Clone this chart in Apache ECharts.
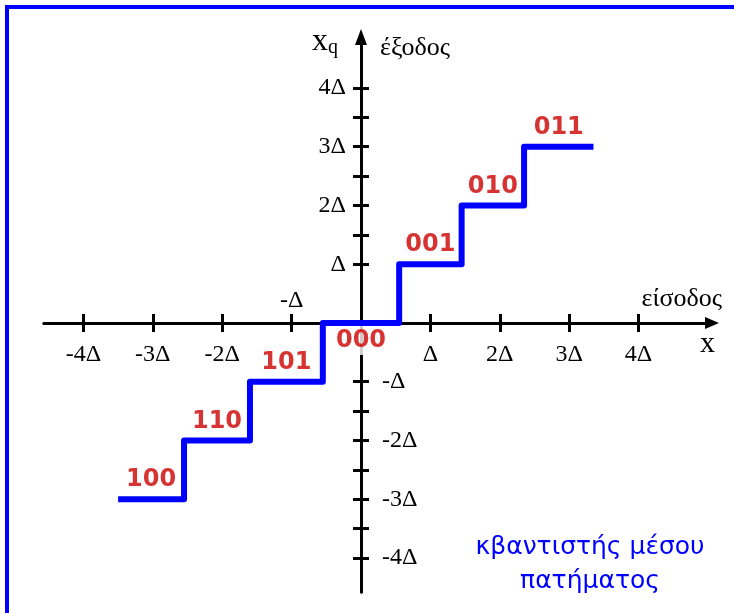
<!DOCTYPE html>
<html>
<head>
<meta charset="utf-8">
<script src="https://cdn.jsdelivr.net/npm/echarts@6/dist/echarts.min.js"></script>
<style>
  html, body { margin: 0; padding: 0; background: #fff; }
  #chart { width: 734px; height: 613px; }
</style>
</head>
<body>
<div id="chart"></div>
<script>
// Mid-tread quantizer: decision thresholds on the input axis and output levels (in units of Δ)
const thresholds = [-3.5, -2.55, -1.6, -0.55, 0.55, 1.45, 2.35, 3.35];
const levels = [-3, -2, -1, 0, 1, 2, 3];
const codes = ['100', '110', '101', '000', '001', '010', '011'];

// Tick marks and their labels
const tickValues = [-4, -3, -2, -1, 1, 2, 3, 4];
const tickLabels = ['-4Δ', '-3Δ', '-2Δ', '-Δ', 'Δ', '2Δ', '3Δ', '4Δ'];
const yHalfTicks = [-3.5, -2.5, -1.5, 1.5, 2.5, 3.5];

const labelOf = v => tickLabels[tickValues.indexOf(v)];

// Staircase polyline: each level spans from one threshold to the next
const stairPoints = [];
levels.forEach((lvl, i) => {
  stairPoints.push([thresholds[i], lvl]);
  stairPoints.push([thresholds[i + 1], lvl]);
});

// Code labels sit at the middle of each step
const codePoints = levels.map((lvl, i) => ({
  value: [(thresholds[i] + thresholds[i + 1]) / 2, lvl],
  label: lvl === 0
    ? { position: 'bottom', distance: 3, backgroundColor: '#fff', padding: [3, 2, 2, 2] }
    : { position: 'top', distance: 7 },
  name: codes[i]
}));

const X_MIN = -4.568, X_MAX = 5.058;
const Y_MIN = -4.579, Y_MAX = 4.868;

// Plot box
const G = { left: 44, top: 37, width: 668, height: 555 };
// Pixel offsets that bring each axis through the origin of the other one
const zeroX = G.width * (0 - X_MIN) / (X_MAX - X_MIN);    // from grid left
const zeroY = G.height * (Y_MAX - 0) / (Y_MAX - Y_MIN);   // from grid top
const offLeft = -zeroX;
const offRight = -(G.width - zeroX);
const offBottom = -(G.height - zeroY);
const offTop = -zeroY;

const serif = 'Liberation Serif';
const black = '#000';
const axisLineStyle = { color: black, width: 3 };
const tickStyle = { color: black, width: 3 };
const yTicks = tickValues.concat(yHalfTicks).sort((a, b) => a - b);

const chart = echarts.init(document.getElementById('chart'), null, { renderer: 'canvas' });
chart.setOption({
  animation: false,
  backgroundColor: '#fff',
  grid: { left: G.left, top: G.top, width: G.width, height: G.height, outerBoundsMode: 'none', containLabel: false },
  xAxis: [
    {
      type: 'value', position: 'bottom', offset: offBottom, min: X_MIN, max: X_MAX,
      name: 'είσοδος', nameLocation: 'end', nameGap: 10,
      nameTextStyle: { fontFamily: serif, fontSize: 26, color: black, align: 'right', verticalAlign: 'bottom', padding: [0, 0, 11, 0] },
      axisLine: { show: true, onZero: false, lineStyle: axisLineStyle, symbol: ['none', 'triangle'], symbolSize: [12, 14] },
      axisTick: { show: true, length: 9, lineStyle: tickStyle, customValues: tickValues },
      axisLabel: {
        show: true, margin: 20, fontFamily: serif, fontSize: 24, color: black,
        customValues: tickValues.filter(v => v !== -1), formatter: labelOf
      },
      splitLine: { show: false }
    },
    {
      type: 'value', position: 'top', offset: offTop, min: X_MIN, max: X_MAX,
      name: 'x', nameLocation: 'end', nameGap: 3,
      nameTextStyle: { fontFamily: serif, fontSize: 30, color: black, align: 'right', verticalAlign: 'top', padding: [6, 0, 0, 0] },
      axisLine: { show: true, onZero: false, lineStyle: axisLineStyle },
      axisTick: { show: true, length: 9, lineStyle: tickStyle, customValues: tickValues },
      axisLabel: {
        show: true, margin: 10, fontFamily: serif, fontSize: 24, color: black,
        customValues: [-1], formatter: labelOf
      },
      splitLine: { show: false }
    }
  ],
  yAxis: [
    {
      type: 'value', position: 'left', offset: offLeft, min: Y_MIN, max: Y_MAX,
      name: '{a|x}{b|q}', nameLocation: 'end', nameGap: -5,
      nameTextStyle: {
        align: 'right', verticalAlign: 'middle', padding: [0, 23, 0, 0],
        rich: {
          a: { fontFamily: serif, fontSize: 32, color: black },
          b: { fontFamily: serif, fontSize: 20, color: black, verticalAlign: 'bottom' }
        }
      },
      axisLine: { show: true, onZero: false, lineStyle: axisLineStyle, symbol: ['none', 'triangle'], symbolSize: [12, 16] },
      axisTick: { show: true, length: 8, lineStyle: tickStyle, customValues: yTicks },
      axisLabel: {
        show: true, margin: 15, fontFamily: serif, fontSize: 24, color: black,
        customValues: tickValues.filter(v => v > 0), formatter: labelOf
      },
      splitLine: { show: false }
    },
    {
      type: 'value', position: 'right', offset: offRight, min: Y_MIN, max: Y_MAX,
      name: 'έξοδος', nameLocation: 'end', nameGap: -11,
      nameTextStyle: { fontFamily: serif, fontSize: 26, color: black, align: 'left', verticalAlign: 'middle', padding: [0, 0, 0, 19] },
      axisLine: { show: true, onZero: false, lineStyle: axisLineStyle },
      axisTick: { show: true, length: 8, lineStyle: tickStyle, customValues: yTicks },
      axisLabel: {
        show: true, margin: 21, fontFamily: serif, fontSize: 24, color: black,
        customValues: tickValues.filter(v => v < 0), formatter: labelOf
      },
      splitLine: { show: false }
    }
  ],
  series: [
    {
      type: 'line', xAxisIndex: 0, yAxisIndex: 0,
      data: stairPoints, showSymbol: false, symbol: 'none', silent: true,
      lineStyle: { color: '#0000ff', width: 6, join: 'round', cap: 'butt' },
      z: 3
    },
    {
      type: 'scatter', xAxisIndex: 0, yAxisIndex: 0,
      data: codePoints, symbolSize: 0, silent: true,
      label: {
        show: true, formatter: p => p.name,
        fontFamily: 'DejaVu Sans', fontWeight: 'bold', fontSize: 24, color: '#cc0000'
      },
      z: 4
    }
  ],
  graphic: [
    {
      type: 'rect', silent: true,
      shape: { x: 7, y: 7, width: 800, height: 700 },
      style: { fill: 'none', stroke: '#0000ff', lineWidth: 4 }
    },
    {
      type: 'text', silent: true, x: 590, y: 530,
      style: {
        text: 'κβαντιστής μέσου\nπατήματος',
        fill: '#0000ff', font: '25px "DejaVu Sans"',
        align: 'center', verticalAlign: 'top', lineHeight: 34
      }
    }
  ]
});
</script>
</body>
</html>
